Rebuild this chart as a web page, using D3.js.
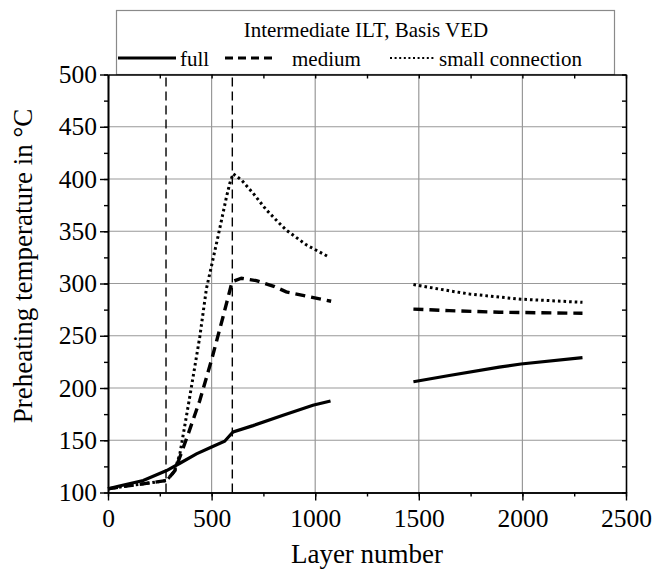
<!DOCTYPE html>
<html lang="en">
<head>
    <meta charset="UTF-8">
    <title>Preheating temperature</title>
    <script src="https://cdn.jsdelivr.net/npm/d3@7"></script>
    <style>
        body { margin: 0; background: #fff; }
    </style>
</head>
<body>
<div id="chart"></div>
<script>
    // Values (layer number -> °C); null breaks the line
    const fullLayers   = [0, 60, 170, 283, 347, 427, 500, 563, 590, 604, 700, 845, 989, 1074, null, 1474, 1647, 1888, 1993, 2290];
    const fullTemps    = [103.5, 106.5, 111.5, 121, 128, 137, 143.5, 149, 155, 158, 164, 174, 183.5, 187.6, null, 206, 212, 220, 223, 229];

    const mediumLayers = [0, 106, 170, 283, 323, 347, 387, 443, 500, 555, 599, 644, 716, 804, 860, 1077, null, 1474, 1647, 1888, 2290];
    const mediumTemps  = [103.5, 106.7, 108.3, 111.5, 121, 134, 156, 188, 227, 268, 301.7, 305, 302.7, 297, 292, 283, null, 275.5, 274, 272.5, 271.5];

    const smallLayers  = [0, 106, 170, 283, 320, 347, 395, 443, 475, 531, 572, 588, 604, 644, 700, 764, 820, 861, 957, 1069, null, 1474, 1647, 1744, 1888, 1993, 2290];
    const smallTemps   = [103.5, 106.7, 108.3, 111.5, 120, 137, 192, 249, 295, 345, 383, 396, 405, 399, 386.5, 370.5, 359, 351, 337, 325, null, 299, 293, 290, 287, 285, 282];

    const markerLayers = [280, 600];

    const xMajor = [0, 500, 1000, 1500, 2000, 2500];
    const yMajor = [100, 150, 200, 250, 300, 350, 400, 450, 500];

    const legendTitle = "Intermediate ILT, Basis VED";
    const seriesNames = ["full", "medium", "small connection"];

    const FONT = '"Liberation Serif", "Times New Roman", serif';

    const width = 652, height = 577;
    const x0 = 108, x1 = 626, y0 = 492.5, y1 = 74.5;

    const svg = d3.select("#chart").append("svg")
        .attr("width", width)
        .attr("height", height)
        .attr("font-family", FONT);

    const x = d3.scaleLinear().domain([0, 2500]).range([x0, x1]);
    const y = d3.scaleLinear().domain([100, 500]).range([y0, y1]);

    // legend box (sits on top of the plot frame)
    const leg = svg.append("g");
    leg.append("rect")
        .attr("x", 116.5).attr("y", 10.5)
        .attr("width", 498).attr("height", 64)
        .attr("fill", "#fff")
        .attr("stroke", "#8a8a8a")
        .attr("stroke-width", 1.2);
    leg.append("text")
        .attr("x", 366).attr("y", 37)
        .attr("text-anchor", "middle")
        .attr("font-family", FONT)
        .attr("font-size", 21)
        .text(legendTitle);

    const legendItems = [
        {name: seriesNames[0], lx: [118, 176], tx: 180, dash: null, w: 3},
        {name: seriesNames[1], lx: [225, 274], tx: 292, dash: "8,5", w: 3},
        {name: seriesNames[2], lx: [390, 434], tx: 439, dash: "2,2.6", w: 2.2}
    ];
    legendItems.forEach(d => {
        leg.append("line")
            .attr("x1", d.lx[0]).attr("x2", d.lx[1])
            .attr("y1", 58).attr("y2", 58)
            .attr("stroke", "#000")
            .attr("stroke-width", d.w)
            .attr("stroke-dasharray", d.dash);
        leg.append("text")
            .attr("x", d.tx).attr("y", 66)
            .attr("font-family", FONT)
            .attr("font-size", 21)
            .text(d.name);
    });

    // grid
    svg.append("g")
        .selectAll("line")
        .data(xMajor.slice(1, -1))
        .join("line")
        .attr("x1", d => x(d)).attr("x2", d => x(d))
        .attr("y1", y0).attr("y2", y1)
        .attr("stroke", "#999").attr("stroke-width", 1.2);
    svg.append("g")
        .selectAll("line")
        .data(yMajor.slice(1, -1))
        .join("line")
        .attr("x1", x0).attr("x2", x1)
        .attr("y1", d => y(d)).attr("y2", d => y(d))
        .attr("stroke", "#999").attr("stroke-width", 1.2);

    // vertical marker lines
    svg.append("g")
        .selectAll("line")
        .data(markerLayers)
        .join("line")
        .attr("x1", d => x(d)).attr("x2", d => x(d))
        .attr("y1", y0).attr("y2", y1)
        .attr("stroke", "#000").attr("stroke-width", 1.4)
        .attr("stroke-dasharray", "9,5");

    // series
    const line = d3.line()
        .defined(d => d[0] !== null)
        .x(d => x(d[0]))
        .y(d => y(d[1]));

    const series = [
        {xs: fullLayers, ys: fullTemps, dash: null, w: 3.2},
        {xs: mediumLayers, ys: mediumTemps, dash: "10,6", w: 3.4},
        {xs: smallLayers, ys: smallTemps, dash: "2.6,3", w: 3}
    ];
    series.forEach(s => {
        svg.append("path")
            .datum(d3.zip(s.xs, s.ys))
            .attr("fill", "none")
            .attr("stroke", "#000")
            .attr("stroke-width", s.w)
            .attr("stroke-dasharray", s.dash)
            .attr("d", line);
    });

    // axes
    const xMinor = d3.range(0, 2501, 250);
    const yMinor = d3.range(100, 501, 25);

    function style(g) {
        g.attr("font-family", FONT);
        g.select(".domain").attr("stroke-width", 1.6);
        g.selectAll(".tick line").attr("stroke-width", 1.4);
        g.selectAll("text").attr("font-size", 25.5).attr("fill", "#000");
    }

    svg.append("g")
        .attr("transform", `translate(0,${y0})`)
        .call(d3.axisBottom(x).tickValues(xMinor).tickSize(4).tickFormat("").tickSizeOuter(0))
        .call(style);
    svg.append("g")
        .attr("transform", `translate(0,${y0})`)
        .call(d3.axisBottom(x).tickValues(xMajor).tickSize(8).tickPadding(8).tickFormat(d3.format("d")).tickSizeOuter(0))
        .call(style);

    svg.append("g")
        .attr("transform", `translate(${x0},0)`)
        .call(d3.axisLeft(y).tickValues(yMinor).tickSize(4).tickFormat("").tickSizeOuter(0))
        .call(style);
    svg.append("g")
        .attr("transform", `translate(${x0},0)`)
        .call(d3.axisLeft(y).tickValues(yMajor).tickSize(8).tickPadding(3).tickFormat(d3.format("d")).tickSizeOuter(0))
        .call(style);

    // mirrored frame: ticks point inward
    svg.append("g")
        .attr("transform", `translate(0,${y1})`)
        .call(d3.axisBottom(x).tickValues(xMinor).tickSize(4).tickFormat("").tickSizeOuter(0))
        .call(style);
    svg.append("g")
        .attr("transform", `translate(${x1},0)`)
        .call(d3.axisLeft(y).tickValues(yMinor).tickSize(4).tickFormat("").tickSizeOuter(0))
        .call(style);

    // axis titles
    svg.append("text")
        .attr("x", 367).attr("y", 563)
        .attr("text-anchor", "middle")
        .attr("font-family", FONT)
        .attr("font-size", 27)
        .text("Layer number");
    svg.append("text")
        .attr("transform", "translate(32,266) rotate(-90)")
        .attr("text-anchor", "middle")
        .attr("font-family", FONT)
        .attr("font-size", 27)
        .text("Preheating temperature in °C");
</script>
</body>
</html>
